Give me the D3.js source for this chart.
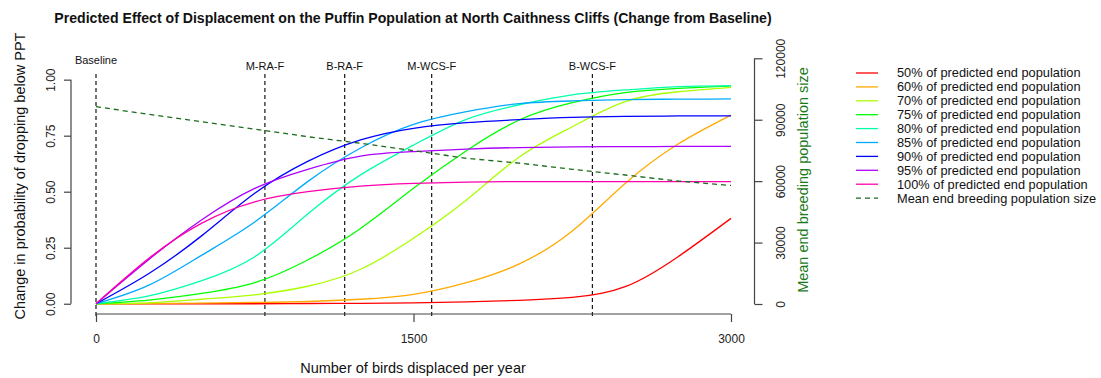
<!DOCTYPE html>
<html>
<head>
<meta charset="utf-8">
<script src="https://cdn.jsdelivr.net/npm/d3@7"></script>
<style>
  html, body { margin: 0; padding: 0; background: #fff; }
  svg { display: block; font-family: "Liberation Sans", Arial, sans-serif; }
</style>
</head>
<body>
<svg id="chart" width="1101" height="378"></svg>
<script>
// ---------------- DATA ----------------
const displaced = [0, 250, 500, 750, 1000, 1250, 1500, 1750, 2000, 2250, 2500, 2750, 3000];

const p50  = [0, 0, 0, 0, 0.001, 0.002, 0.004, 0.008, 0.015, 0.028, 0.076, 0.21, 0.381];
const p60  = [0, 0.001, 0.003, 0.006, 0.01, 0.02, 0.042, 0.094, 0.178, 0.325, 0.537, 0.713, 0.842];
const p70  = [0, 0.004, 0.02, 0.04, 0.078, 0.154, 0.292, 0.463, 0.655, 0.79, 0.902, 0.946, 0.966];
const p75  = [0, 0.016, 0.046, 0.094, 0.195, 0.336, 0.515, 0.683, 0.82, 0.897, 0.942, 0.961, 0.972];
const p80  = [0, 0.035, 0.103, 0.21, 0.40, 0.575, 0.708, 0.823, 0.888, 0.932, 0.954, 0.969, 0.972];
const p85  = [0, 0.083, 0.217, 0.365, 0.545, 0.695, 0.80, 0.857, 0.893, 0.905, 0.911, 0.913, 0.914];
const p90  = [0, 0.135, 0.304, 0.493, 0.635, 0.731, 0.783, 0.808, 0.822, 0.832, 0.836, 0.838, 0.838];
const p95  = [0, 0.198, 0.375, 0.515, 0.60, 0.659, 0.679, 0.69, 0.697, 0.70, 0.701, 0.702, 0.702];
const p100 = [0, 0.203, 0.36, 0.455, 0.50, 0.525, 0.537, 0.543, 0.545, 0.545, 0.545, 0.545, 0.545];

const meanPop = [96400, 92600, 89000, 85400, 81700, 78500, 74900, 71150, 68800, 65800, 63000, 60070, 57900];

const seriesNames = [
  "50% of predicted end population", "60% of predicted end population",
  "70% of predicted end population", "75% of predicted end population",
  "80% of predicted end population", "85% of predicted end population",
  "90% of predicted end population", "95% of predicted end population",
  "100% of predicted end population"
];
const seriesColors = ["#FF0000", "#FFAA00", "#AAFF00", "#00FF00", "#00FFAA", "#00AAFF", "#0000FF", "#AA00FF", "#FF00AA"];
const meanName = "Mean end breeding population size";

const markerNames = ["Baseline", "M-RA-F", "B-RA-F", "M-WCS-F", "B-WCS-F"];
const markerValues = [0, 798, 1175, 1586, 2345];

const xTicks = [0, 1500, 3000];
const yLeftTicks = [0, 0.25, 0.5, 0.75, 1];
const yLeftTickLabels = ["0.00", "0.25", "0.50", "0.75", "1.00"];
const yRightTicks = [0, 30000, 60000, 90000, 120000];

const titleText = "Predicted Effect of Displacement on the Puffin Population at North Caithness Cliffs (Change from Baseline)";
const xTitle = "Number of birds displaced per year";
const yLeftTitle = "Change in probability of dropping below PPT";
const yRightTitle = "Mean end breeding population size";

// ---------------- CHART ----------------
const svg = d3.select("#chart");
const axisColor = "#444";
const popColor = "#1a6b1a";

const x = d3.scaleLinear().domain([-120, 3120]).range([70.6, 756.4]);
const yL = d3.scaleLinear().domain([-0.04, 1.04]).range([312.7, 70.7]);
const yR = d3.scaleLinear().domain([0, 120000]).range([304, 58.3]);

const series = [p50, p60, p70, p75, p80, p85, p90, p95, p100];

// title
svg.append("text")
  .attr("x", 413).attr("y", 23)
  .attr("text-anchor", "middle")
  .style("font-weight", "bold").style("font-size", "14.1px").style("fill", "#111")
  .text(titleText);

// vertical marker lines
const markers = svg.append("g");
markerNames.forEach((name, i) => {
  const mx = x(markerValues[i]);
  markers.append("line")
    .attr("x1", mx).attr("x2", mx).attr("y1", 74).attr("y2", 319)
    .attr("stroke", "#000").attr("stroke-width", 1.1)
    .attr("stroke-dasharray", "4,3");
  markers.append("text")
    .attr("x", mx).attr("y", i === 0 ? 64 : 70)
    .attr("text-anchor", "middle")
    .style("font-size", "11px").style("fill", "#111")
    .text(name);
});

// probability curves
const lineP = d3.line()
  .x((d, i) => x(displaced[i]))
  .y(d => yL(Math.max(0, d)))
  .curve(d3.curveNatural);

series.forEach((s, k) => {
  svg.append("path")
    .datum(s)
    .attr("d", lineP)
    .attr("fill", "none")
    .attr("stroke", seriesColors[k])
    .attr("stroke-width", 1.3);
});

// mean population dashed
const lineM = d3.line()
  .x((d, i) => x(displaced[i]))
  .y(d => yR(d));
svg.append("path")
  .datum(meanPop)
  .attr("d", lineM)
  .attr("fill", "none")
  .attr("stroke", popColor)
  .attr("stroke-width", 1.3)
  .attr("stroke-dasharray", "5,4");

// bottom axis
const xAxisG = svg.append("g").attr("transform", "translate(0,314)")
  .call(d3.axisBottom(x).tickValues(xTicks).tickSize(8).tickPadding(12).tickFormat(d3.format("d")));
xAxisG.select(".domain").attr("d", `M${x(0)},0H${x(3000)}`);

// left axis
const yLAxisG = svg.append("g").attr("transform", "translate(71,0)")
  .call(d3.axisLeft(yL).tickValues(yLeftTicks).tickSize(7)
    .tickFormat((d, i) => yLeftTickLabels[i]));
yLAxisG.select(".domain").attr("d", `M0,${yL(0)}V${yL(1)}`);
yLAxisG.selectAll(".tick text")
  .attr("x", 0).attr("y", 0)
  .attr("text-anchor", "middle")
  .attr("transform", "translate(-20,0) rotate(-90)");

// right axis
const yRAxisG = svg.append("g").attr("transform", "translate(754.5,0)")
  .call(d3.axisRight(yR).tickValues(yRightTicks).tickSize(8).tickFormat(d3.format("d")));
yRAxisG.select(".domain").attr("d", `M0,${yR(0)}V${yR(120000)}`);
yRAxisG.selectAll(".tick text")
  .attr("x", 0).attr("y", 0)
  .attr("text-anchor", "middle")
  .attr("transform", "translate(26.5,0) rotate(-90)");

[xAxisG, yLAxisG, yRAxisG].forEach(g => {
  g.selectAll(".domain").attr("stroke", axisColor).attr("stroke-width", 1.2);
  g.selectAll(".tick line").attr("stroke", axisColor).attr("stroke-width", 1.2);
  g.selectAll(".tick text").style("font-size", "12px").style("fill", "#222")
    .style("font-family", "'Liberation Sans', Arial, sans-serif");
});
yLAxisG.selectAll(".tick text").attr("dy", "0.35em");
yRAxisG.selectAll(".tick text").attr("dy", "0.35em");

// axis titles
svg.append("text")
  .attr("x", 413).attr("y", 373)
  .attr("text-anchor", "middle")
  .style("font-size", "14.5px").style("fill", "#111")
  .text(xTitle);

svg.append("text")
  .attr("transform", "translate(25,176) rotate(-90)")
  .attr("text-anchor", "middle")
  .style("font-size", "14.5px").style("fill", "#111")
  .text(yLeftTitle);

svg.append("text")
  .attr("transform", "translate(808,180) rotate(-90)")
  .attr("text-anchor", "middle")
  .style("font-size", "14.5px").style("fill", "#1a7a1a")
  .text(yRightTitle);

// legend
const legend = svg.append("g");
const legendItems = seriesNames.map((n, i) => ({ name: n, color: seriesColors[i], dash: null }))
  .concat([{ name: meanName, color: popColor, dash: "5,4" }]);
legendItems.forEach((it, i) => {
  const ly = 73 + i * 13.9;
  legend.append("line")
    .attr("x1", 856).attr("x2", 878).attr("y1", ly).attr("y2", ly)
    .attr("stroke", it.color).attr("stroke-width", 1.3)
    .attr("stroke-dasharray", it.dash);
  legend.append("text")
    .attr("x", 897).attr("y", ly).attr("dy", "0.35em")
    .style("font-size", "12.8px").style("fill", "#111")
    .text(it.name);
});
</script>
</body>
</html>
